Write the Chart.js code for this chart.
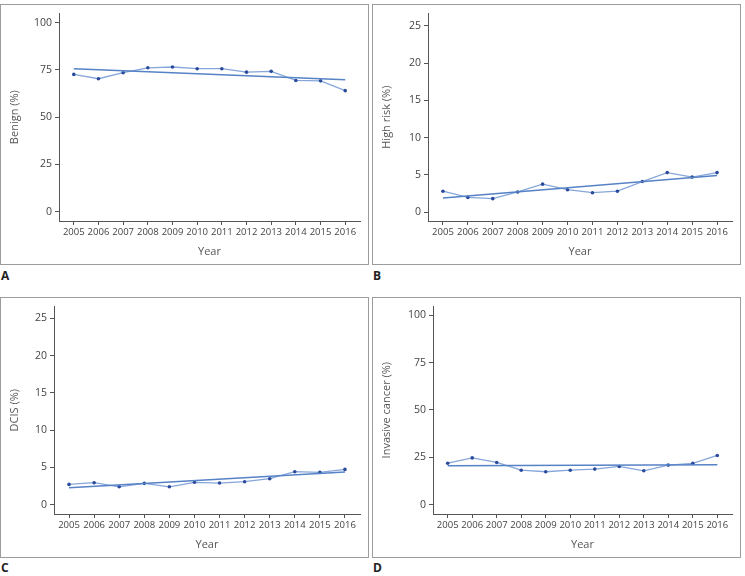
<!doctype html>
<html lang="en">
<head>
<meta charset="utf-8">
<title>Benign, high risk, DCIS and invasive cancer rates 2005-2016</title>
<style>
  * { margin: 0; padding: 0; }
  body {
    width: 745px; height: 576px; position: relative; overflow: hidden;
    background: #fff; font-family: 'Open Sans', sans-serif;
  }
  .box {
    position: absolute; width: 369px; height: 261px;
    border: 1.5px solid #9c9c9c; box-sizing: border-box;
  }
  .box canvas { position: absolute; left: -1.5px; top: -1.5px; }
  .tag {
    position: absolute; font: bold 12px 'Open Sans', sans-serif; color: #222;
  }
</style>
</head>
<body>
  <div class="box" style="left:0px; top:4px;"><canvas id="chartA" width="369" height="261"></canvas></div>
  <div class="box" style="left:372px; top:4px;"><canvas id="chartB" width="369" height="261"></canvas></div>
  <div class="box" style="left:0px; top:297px;"><canvas id="chartC" width="369" height="261"></canvas></div>
  <div class="box" style="left:372px; top:297px;"><canvas id="chartD" width="369" height="261"></canvas></div>
  <span class="tag" style="left:1px; top:267px;">A</span>
  <span class="tag" style="left:373px; top:267px;">B</span>
  <span class="tag" style="left:1px; top:559px;">C</span>
  <span class="tag" style="left:373px; top:559px;">D</span>

  <script src="https://cdn.jsdelivr.net/npm/chart.js"></script>
  <script>
    // data
    const years = [2005, 2006, 2007, 2008, 2009, 2010, 2011, 2012, 2013, 2014, 2015, 2016];

    const benign = [72.6, 70.3, 73.5, 76.1, 76.5, 75.6, 75.6, 73.8, 74.2, 69.4, 69.2, 64.0];
    const benignTrend = [75.6, 69.8];   // fitted line at 2005 and 2016

    const highRisk = [2.8, 1.97, 1.8, 2.7, 3.75, 3.0, 2.6, 2.8, 4.1, 5.3, 4.7, 5.3];
    const highRiskTrend = [1.9, 4.9];

    const dcis = [2.72, 2.95, 2.4, 2.86, 2.4, 3.0, 2.9, 3.08, 3.48, 4.42, 4.33, 4.73];
    const dcisTrend = [2.28, 4.38];

    const invasive = [21.9, 24.7, 22.3, 18.2, 17.4, 18.2, 18.8, 20.2, 17.9, 20.9, 21.8, 26.0];
    const invasiveTrend = [20.5, 21.05];

    const ticksPct = [0, 25, 50, 75, 100];
    const ticksSmall = [0, 5, 10, 15, 20, 25];

    const axisColor = '#555';
    const textColor = '#444';

    function makePanel(id, yTitle, values, trend, yTicks, yMin, yMax, yWidth) {
      const obs = years.map((x, i) => ({ x: x, y: values[i] }));
      const fit = [
        { x: years[0], y: trend[0] },
        { x: years[years.length - 1], y: trend[1] }
      ];
      return new Chart(document.getElementById(id), {
        type: 'line',
        data: {
          datasets: [{
            label: 'Trend',
            data: fit,
            borderColor: '#5682c6',
            borderWidth: 1.5,
            pointRadius: 0,
            fill: false
          }, {
            label: yTitle,
            data: obs,
            borderColor: '#86a6da',
            borderWidth: 1.3,
            pointRadius: 1.8,
            pointStyle: 'circle',
            pointBackgroundColor: '#2a4b9b',
            pointBorderColor: '#2a4b9b',
            pointBorderWidth: 0,
            tension: 0,
            fill: false
          }]
        },
        options: {
          responsive: false,
          animation: false,
          layout: { padding: { top: 9, right: 9, left: 0, bottom: 0 } },
          plugins: { legend: { display: false }, tooltip: { enabled: false } },
          scales: {
            x: {
              type: 'linear',
              min: 2004.4,
              max: 2016.6,
              afterBuildTicks: (s) => { s.ticks = years.map(v => ({ value: v })); },
              afterFit: (s) => { s.height = 44; },
              grid: { display: true, drawOnChartArea: false, drawTicks: true, tickLength: 4, color: axisColor },
              border: { display: true, color: axisColor, width: 1 },
              ticks: {
                autoSkip: false, maxRotation: 0, padding: 2,
                color: textColor, font: { family: 'Open Sans', size: 9.5 },
                callback: (v) => String(v)
              },
              title: {
                display: true, text: 'Year', color: '#555',
                font: { family: 'Open Sans', size: 11 },
                padding: { top: 0, bottom: 7 }
              }
            },
            y: {
              min: yMin,
              max: yMax,
              afterBuildTicks: (s) => { s.ticks = yTicks.map(v => ({ value: v })); },
              afterFit: (s) => { s.width = yWidth; },
              grid: { display: true, drawOnChartArea: false, drawTicks: true, tickLength: 4, color: axisColor },
              border: { display: true, color: axisColor, width: 1 },
              ticks: {
                padding: 3, color: textColor,
                font: { family: 'Open Sans', size: 10.5 }
              },
              title: {
                display: true, text: yTitle, color: '#555',
                font: { family: 'Open Sans', size: 11 },
                padding: { top: 8, bottom: 0 }
              }
            }
          }
        }
      });
    }

    makePanel('chartA', 'Benign (%)', benign, benignTrend, ticksPct, -4.9, 104.9, 59);
    makePanel('chartB', 'High risk (%)', highRisk, highRiskTrend, ticksSmall, -1.2, 26.7, 56);
    makePanel('chartC', 'DCIS (%)', dcis, dcisTrend, ticksSmall, -1.25, 26.6, 54);
    makePanel('chartD', 'Invasive cancer (%)', invasive, invasiveTrend, ticksPct, -4.9, 104.7, 61);
  </script>
</body>
</html>
